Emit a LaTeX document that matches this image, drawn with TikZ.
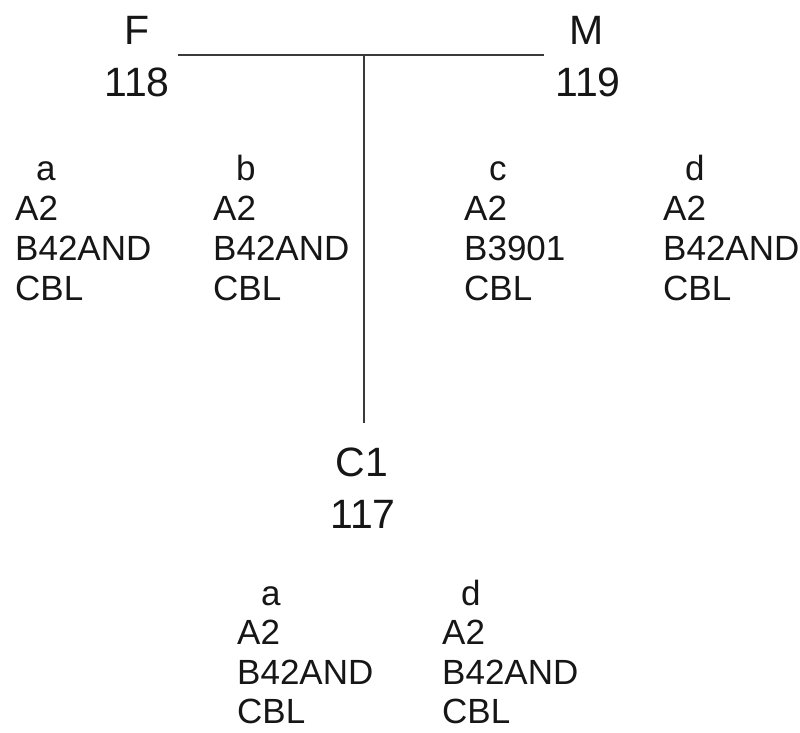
\documentclass[tikz,border=0pt]{standalone}
\usepackage{fontspec}
\setmainfont{Liberation Sans}
\definecolor{ink}{HTML}{161616}
\definecolor{linegray}{HTML}{3A3A3A}
% one column of typing results: indented letter, then the three loci
\newcommand{\typingcol}[4]{%
  \begin{tabular}[t]{@{}l@{}}\hspace*{#1}#2\\A2\\#3\\#4\end{tabular}}
\begin{document}
\begin{tikzpicture}[x=1pt,y=-1pt,
  person/.style={anchor=base,inner sep=0pt,font=\fontsize{41}{48}\selectfont,text=ink},
  typing/.style={anchor=base west,inner sep=0pt,font=\fontsize{35}{40}\selectfont,text=ink},
  tighter/.style={font=\fontsize{35}{39.5}\selectfont},
  link/.style={draw=linegray,line width=1.6pt}]
\useasboundingbox (0,0) rectangle (800,733);

% parents
\node[person] (F)    at (137,45) {F};
\node[person] (F118) at (137,97) {118};
\node[person] (M)    at (587,45) {M};
\node[person] (M119) at (588,97) {119};

% child
\node[person] (C1)   at (362,476) {C1};
\node[person] (C117) at (363,528) {117};

% mating line and line of descent
\coordinate (mateL) at (178,55);
\coordinate (mateR) at (544,55);
\coordinate (drop)  at (364,55);
\coordinate (child) at (364,423);
\draw[link] (mateL) -- (mateR);
\draw[link] (drop) -- (child);

% parental haplotypes
\node[typing] (ha) at (15,180)  {\typingcol{21pt}{a}{B42AND}{CBL}};
\node[typing] (hb) at (213,180) {\typingcol{23pt}{b}{B42AND}{CBL}};
\node[typing] (hc) at (464,180) {\typingcol{25pt}{c}{B3901}{CBL}};
\node[typing] (hd) at (663,180) {\typingcol{22pt}{d}{B42AND}{CBL}};

% haplotypes of the child
\node[typing,tighter] (ka) at (237,605) {\typingcol{24pt}{a}{B42AND}{CBL}};
\node[typing,tighter] (kd) at (442,605) {\typingcol{19pt}{d}{B42AND}{CBL}};
\end{tikzpicture}
\end{document}
